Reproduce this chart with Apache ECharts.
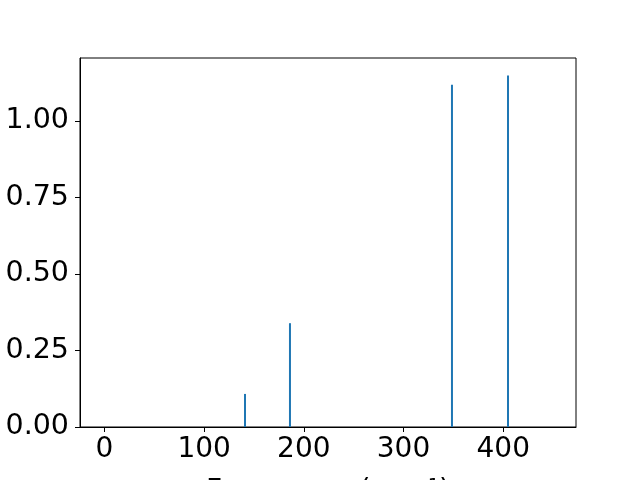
<!DOCTYPE html>
<html><head><meta charset="utf-8">
<script src="https://cdn.jsdelivr.net/npm/echarts@6/dist/echarts.min.js"></script>
<style>html,body{margin:0;padding:0;background:#fff}#c{width:640px;height:480px}</style>
</head><body><div id="c"></div>
<script>
const frequencies = [141.0, 186.1, 348.6, 404.8];
const intensities = [0.108, 0.339, 1.118, 1.148];
const xTicks = [0, 100, 200, 300, 400];
const yTicks = [0, 0.25, 0.5, 0.75, 1.0];
const xLabel = 'Frequency (cm\u207B\u00B9)';

const font = 'DejaVu Sans';
const chart = echarts.init(document.getElementById('c'), null, {renderer: 'canvas'});
chart.setOption({
  animation: false,
  grid: {left: 80, right: 64, top: 58, bottom: 53, show: true, borderColor: '#000', borderWidth: 1,
    containLabel: false, outerBoundsMode: 'none'},
  xAxis: {
    type: 'value', min: -24.5, max: 473,
    name: xLabel, nameLocation: 'middle', nameGap: 51,
    nameTextStyle: {fontFamily: font, fontSize: 28, color: '#000'},
    axisLine: {show: true, onZero: false, lineStyle: {color: '#000', width: 1}},
    axisTick: {show: true, inside: false, length: 5, customValues: xTicks, lineStyle: {color: '#000'}},
    axisLabel: {customValues: xTicks, fontFamily: font, fontSize: 28, color: '#000', margin: 9},
    splitLine: {show: false}
  },
  yAxis: {
    type: 'value', min: 0, max: 1.205,
    axisLine: {show: true, onZero: false, lineStyle: {color: '#000', width: 1}},
    axisTick: {show: true, inside: false, length: 5, customValues: yTicks, lineStyle: {color: '#000'}},
    axisLabel: {customValues: yTicks, fontFamily: font, fontSize: 28.5, color: '#000', margin: 11,
      formatter: v => v.toFixed(2)},
    splitLine: {show: false}
  },
  series: [{
    type: 'bar', barWidth: 2,
    itemStyle: {color: '#1f77b4'},
    data: frequencies.map((f, i) => [f, intensities[i]])
  }]
});
</script></body></html>
